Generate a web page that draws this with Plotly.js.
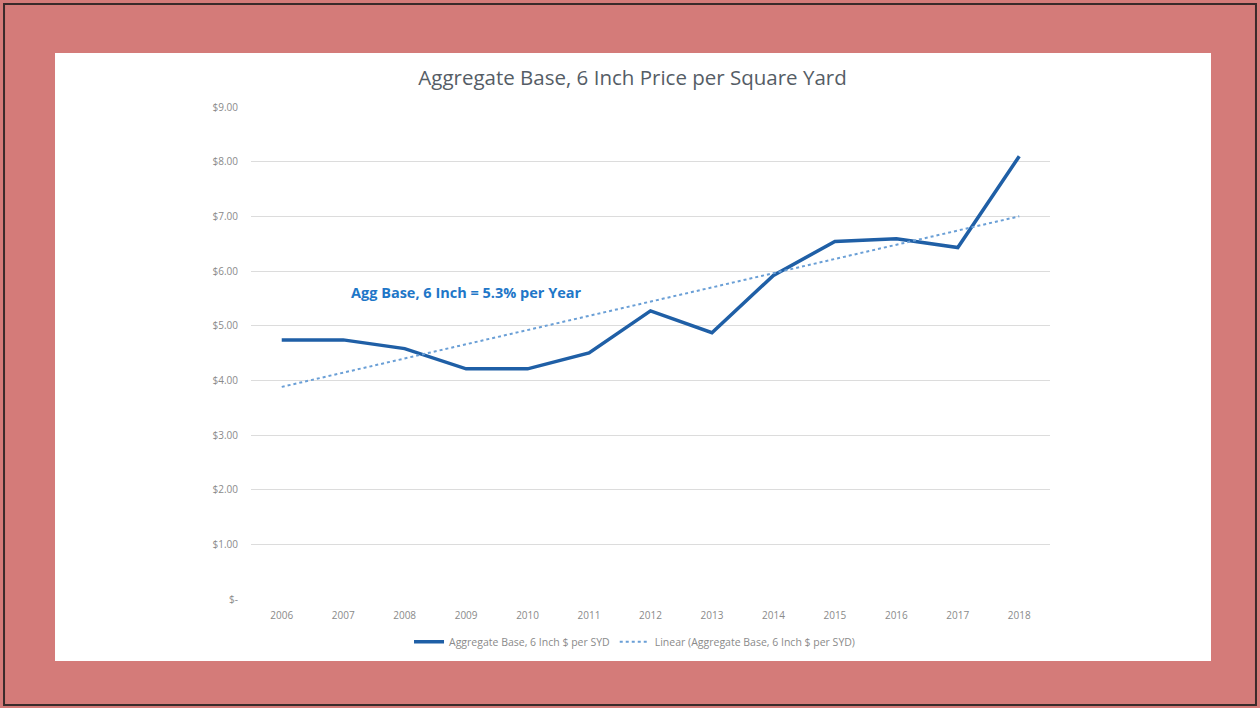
<!DOCTYPE html>
<html>
<head>
<meta charset="utf-8">
<script src="https://cdn.plot.ly/plotly-3.0.1.min.js"></script>
<style>html,body{margin:0;padding:0;background:#d47b79;}#chart{width:1260px;height:708px;}</style>
</head>
<body>
<div id="chart"></div>
<script>
const years = [2006, 2007, 2008, 2009, 2010, 2011, 2012, 2013, 2014, 2015, 2016, 2017, 2018];
const pricePerSYD = [4.74, 4.74, 4.58, 4.21, 4.21, 4.50, 5.27, 4.87, 5.92, 6.54, 6.59, 6.43, 8.10];
const trendYears = [2006, 2018];
const trendValues = [3.88, 7.00];
const yTickVals = [0, 1, 2, 3, 4, 5, 6, 7, 8, 9];
const yTickText = ['$-', '$1.00', '$2.00', '$3.00', '$4.00', '$5.00', '$6.00', '$7.00', '$8.00', '$9.00'];
const seriesName = 'Aggregate Base, 6 Inch $ per SYD';
const trendName = 'Linear (Aggregate Base, 6 Inch $ per SYD)';
const chartTitle = 'Aggregate Base, 6 Inch Price per Square Yard';
const annotationText = 'Agg Base, 6 Inch = 5.3% per Year';

const traces = [
  {x: years, y: pricePerSYD, type: 'scatter', mode: 'lines', name: seriesName,
   line: {color: '#1f5fa6', width: 3.5}},
  {x: trendYears, y: trendValues, type: 'scatter', mode: 'lines', name: trendName,
   line: {color: '#6a9fd6', width: 2, dash: 'dot'}}
];

const layout = {
  width: 1260, height: 708,
  margin: {l: 251, r: 210, t: 107, b: 109},
  paper_bgcolor: '#d47b79',
  plot_bgcolor: 'rgba(0,0,0,0)',
  font: {family: 'Open Sans, sans-serif', color: '#8a8a8a'},
  title: {text: chartTitle, x: 0.502, xanchor: 'center', y: 0.89, yanchor: 'middle',
          font: {family: 'Open Sans, sans-serif', size: 20.5, color: '#555d66'}},
  xaxis: {range: [2005.5, 2018.5], tickvals: years, ticktext: years.map(String),
          showgrid: false, zeroline: false, showline: false, ticks: '', ticklabelstandoff: 9,
          tickfont: {size: 10, color: '#8a8a8a'}},
  yaxis: {range: [0, 9], tickvals: yTickVals, ticktext: yTickText,
          showgrid: true, gridcolor: '#dcdcdc', gridwidth: 1, zeroline: false,
          showline: false, ticks: '', ticklabelstandoff: 12,
          tickfont: {size: 10, color: '#8a8a8a'}},
  showlegend: true,
  legend: {orientation: 'h', x: 0.48, xanchor: 'center', y: -0.087, yanchor: 'middle',
           font: {size: 10.5, color: '#8a8a8a'}, bgcolor: 'rgba(0,0,0,0)'},
  annotations: [{text: annotationText, x: 2009.0, y: 5.6, xref: 'x', yref: 'y',
                 showarrow: false, font: {family: 'Open Sans, sans-serif', size: 14.5, weight: 'bold', color: '#1f77c8'}}],
  shapes: [
    {type: 'rect', xref: 'paper', yref: 'paper', x0: -0.2453, x1: 1.2015, y0: -0.126, y1: 1.1098,
     fillcolor: '#ffffff', line: {width: 0}, layer: 'below'},
    {type: 'rect', xref: 'paper', yref: 'paper', x0: -0.3091, x1: 1.2578, y0: -0.2154, y1: 1.2093,
     fillcolor: 'rgba(0,0,0,0)', line: {width: 2, color: '#3a2a2a'}, layer: 'below'}
  ]
};

Plotly.newPlot('chart', traces, layout, {displayModeBar: false, staticPlot: true});
</script>
</body>
</html>
